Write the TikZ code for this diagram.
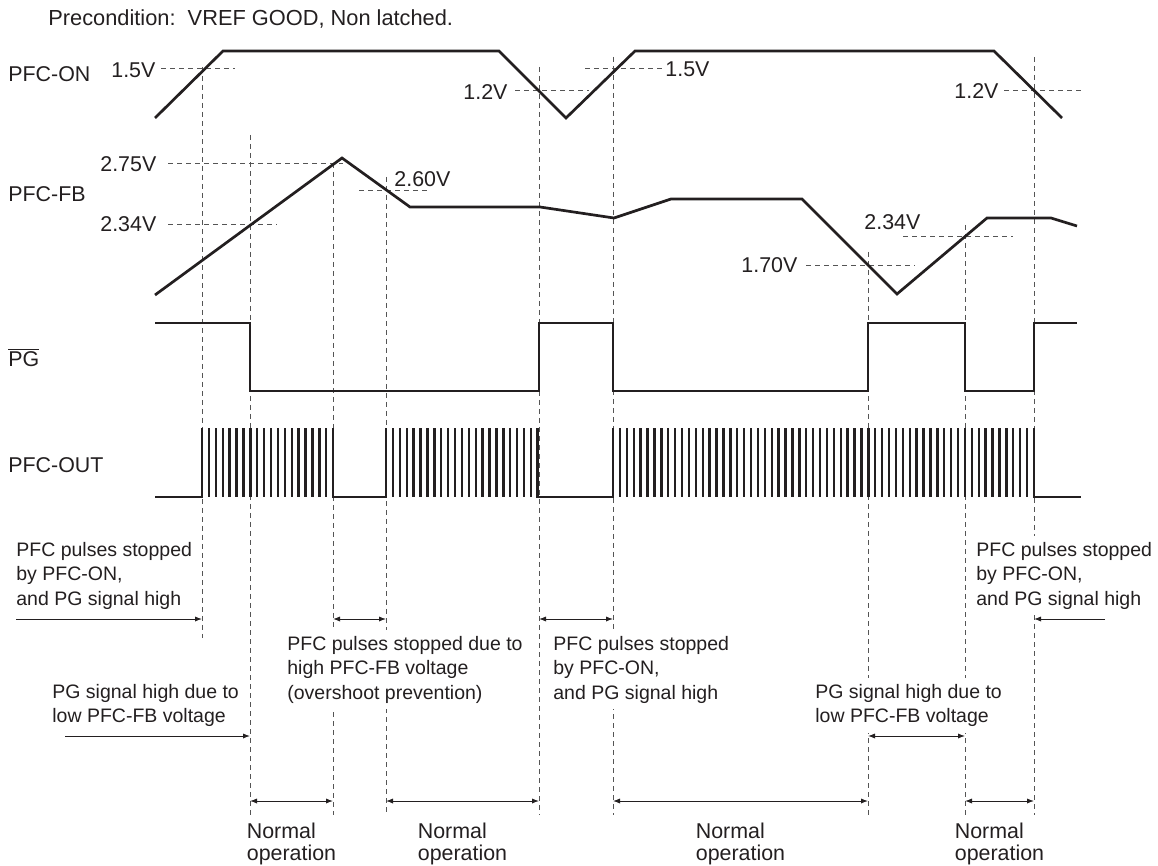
\documentclass[tikz,border=0pt]{standalone}
\usepackage{fontspec}
\setmainfont{Liberation Sans}
\usetikzlibrary{arrows.meta}
\newcommand\lblfont{\fontsize{10.7}{12}\selectfont}
\newcommand\notefont{\fontsize{9.75}{12.25}\selectfont}
\newcommand\opfont{\fontsize{10.7}{11}\selectfont}
\definecolor{ink}{HTML}{231F20}
\definecolor{guidegray}{HTML}{555555}
\begin{document}
\begin{tikzpicture}[x=0.5pt,y=-0.5pt, every node/.style={text=ink},
    wave/.style={ink, line width=1.35pt},
    pulse/.style={ink, line width=1.2pt},
    guide/.style={guidegray, line width=0.5pt, dash pattern=on 2.5pt off 2pt},
    ptr/.style={ink, line width=0.5pt, -{Latex[length=3.5pt,width=2.6pt]}},
    dim/.style={ink, line width=0.5pt, {Latex[length=3.5pt,width=2.6pt]}-{Latex[length=3.5pt,width=2.6pt]}},
    lbl/.style={font=\lblfont, anchor=base west, inner sep=0pt},
    note/.style={font=\notefont, align=left, anchor=north west, fill=white, inner sep=3pt},
    oplbl/.style={font=\opfont, align=left, anchor=north, inner sep=0pt}]
    \useasboundingbox (0,0) rectangle (1158,866);
    % time marks (dashed verticals)
    \foreach [count=\i] \x/\ya/\yb in {202/67/638, 250/135/815, 333/163/815,
        386/177/815, 539/67/815, 613/57/815, 868/252/815, 965/225/815, 1034/57/815}
    {
        \draw[guide] (\x,\ya) -- (\x,\yb);
        \coordinate (t\i) at (\x,0);
    }
    % row heights for the arrows
    \coordinate (rA) at (0,619);
    \coordinate (rB) at (0,736);
    \coordinate (rC) at (0,801);

    \node[lbl, font=\fontsize{10.9}{12}\selectfont] (pre) at (48,26) {Precondition:\ \ VREF GOOD, Non latched.};

    % PFC-ON
    \node[lbl] (lon) at (8,82) {PFC-ON};
    \node[lbl] (on15a) at (111,77.5) {1.5V};
    \node[lbl] (on12a) at (463,100) {1.2V};
    \node[lbl] (on15b) at (665,77) {1.5V};
    \node[lbl] (on12b) at (954,99) {1.2V};
    \draw[guide] (161,69) -- (235,69);
    \draw[guide] (515,91) -- (589,91);
    \draw[guide] (585,69) -- (663,69);
    \draw[guide] (1004,91) -- (1082,91);
    \draw[wave] (155,118) -- (223,51) -- (499,51) -- (566,118) -- (635,51)
        -- (994,51) -- (1062,118);

    % PFC-FB
    \node[lbl] (lfb) at (8,202) {PFC-FB};
    \node[lbl] (fb275) at (100,172) {2.75V};
    \node[lbl] (fb260) at (394,187) {2.60V};
    \node[lbl] (fb234a) at (100,232) {2.34V};
    \node[lbl] (fb170) at (741,273) {1.70V};
    \node[lbl] (fb234b) at (864,230) {2.34V};
    \draw[guide] (168,164) -- (343,164);
    \draw[guide] (359,191) -- (429,191);
    \draw[guide] (168,225) -- (277,225);
    \draw[guide] (806,266) -- (915,266);
    \draw[guide] (903,237) -- (1013,237);
    \draw[wave] (155,295) -- (342,158) -- (410,207) -- (540,207) -- (614,218)
        -- (671,199) -- (802,199) -- (897,294) -- (987,218) -- (1051,218) -- (1077,226);

    % PG (active low)
    \node[lbl] (lpg) at (8,367) {$\overline{\mbox{PG}}$};
    \draw[wave] (155,323) -| (250,391) -| (539,323) -| (613,391) -| (868,323)
        -| (965,391) -| (1034,323) -- (1077,323);

    % PFC-OUT
    \node[lbl] (lout) at (8,473) {PFC-OUT};
    \draw[wave] (155,497) -| (202,428);
    \draw[wave] (333.1,428) |- (386,497) -- (386,428);
    \draw[wave] (537.8,428) |- (613,497) -- (613,428);
    \draw[wave] (1033.9,428) |- (1081,497);
    \foreach \a/\n in {202/19, 386/22, 613/61}
        \foreach \k in {1,...,\n}
            \draw[pulse] (\a+\k*6.9,497) -- (\a+\k*6.9,428);

    % notes
    \node[note] (n1) at (10,535.8) {PFC pulses stopped\\by PFC-ON,\\and PG signal high};
    \node[note] (n2) at (281,629.8) {PFC pulses stopped due to\\high PFC-FB voltage\\(overshoot prevention)};
    \node[note] (n3) at (547,629.8) {PFC pulses stopped\\by PFC-ON,\\and PG signal high};
    \node[note] (n4) at (970,535.8) {PFC pulses stopped\\by PFC-ON,\\and PG signal high};
    \node[note] (n5) at (46,677.8) {PG signal high due to\\low PFC-FB voltage};
    \node[note] (n6) at (809,677.8) {PG signal high due to\\low PFC-FB voltage};

    % arrows
    \coordinate (sA) at (16,619);
    \coordinate (eA) at (1105,619);
    \coordinate (sB) at (65,736);
    \draw[ptr] (sA) -- (t1 |- rA);
    \draw[dim] (t3 |- rA) -- (t4 |- rA);
    \draw[dim] (t5 |- rA) -- (t6 |- rA);
    \draw[ptr] (eA) -- (t9 |- rA);
    \draw[ptr] (sB) -- (t2 |- rB);
    \draw[dim] (t7 |- rB) -- (t8 |- rB);
    \draw[dim] (t2 |- rC) -- (t3 |- rC);
    \draw[dim] (t4 |- rC) -- (t5 |- rC);
    \draw[dim] (t6 |- rC) -- (t7 |- rC);
    \draw[dim] (t8 |- rC) -- (t9 |- rC);

    % normal operation spans
    \node[oplbl] (op1) at (291.5,822.5) {Normal\\operation};
    \node[oplbl] (op2) at (462.5,822.5) {Normal\\operation};
    \node[oplbl] (op3) at (740.5,822.5) {Normal\\operation};
    \node[oplbl] (op4) at (999.5,822.5) {Normal\\operation};
\end{tikzpicture}
\end{document}
